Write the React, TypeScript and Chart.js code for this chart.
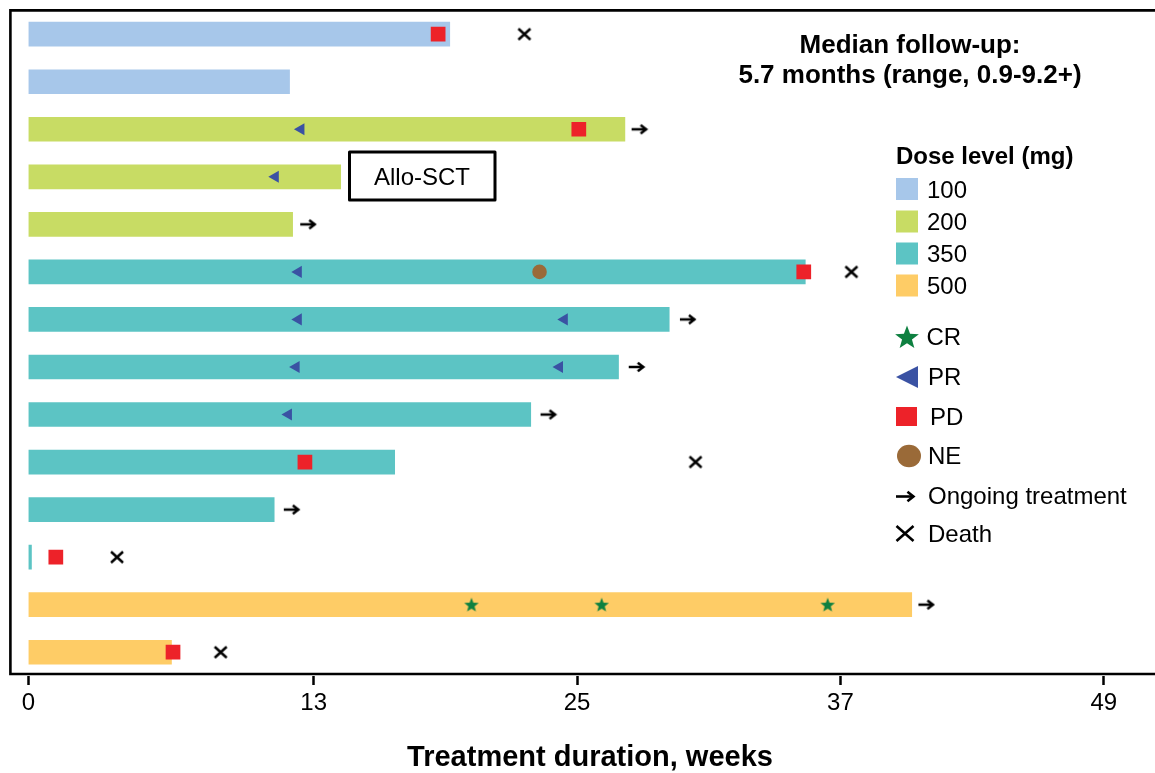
import React, { useEffect, useRef } from 'react';
import { Chart, registerables } from 'chart.js';

Chart.register(...registerables);

// ---------- data ----------
const patientIds = ['1', '2', '3', '4', '5', '6', '7', '8', '9', '10', '11', '12', '13', '14'];
const doseLevels = [100, 100, 200, 200, 200, 350, 350, 350, 350, 350, 350, 350, 500, 500];
const durationWeeks = [19.2, 11.9, 27.18, 14.23, 12.04, 35.4, 29.2, 26.89, 22.89, 16.69, 11.2, 0.14, 40.25, 6.52];
const xTickValues = [0, 13, 25, 37, 49];

const crRows = ['13', '13', '13'];
const crWeeks = [20.19, 26.12, 36.42];
const prRows = ['3', '4', '6', '7', '7', '8', '8', '9'];
const prWeeks = [12.42, 11.25, 12.3, 12.3, 24.42, 12.2, 24.2, 11.85];
const pdRows = ['1', '3', '6', '10', '12', '14'];
const pdWeeks = [18.67, 25.08, 35.33, 12.6, 1.25, 6.59];
const neRows = ['6'];
const neWeeks = [23.29];
const ongoingRows = ['3', '5', '7', '8', '9', '11', '13'];
const ongoingWeeks = [27.85, 12.75, 30.05, 27.72, 23.7, 12.0, 40.92];
const deathRows = ['1', '6', '10', '12', '14'];
const deathWeeks = [22.6, 37.5, 30.4, 4.04, 8.76];

const doseNames = ['100', '200', '350', '500'];
const doseColors = ['#A7C7EA', '#C8DC64', '#5CC4C4', '#FECC66'];
const responseLabels = ['CR', 'PR', 'PD', 'NE', 'Ongoing treatment', 'Death'];
const legendTitle = 'Dose level (mg)';
const followUpLines = ['Median follow-up:', '5.7 months (range, 0.9-9.2+)'];
const alloLabel = 'Allo-SCT';
const xAxisTitle = 'Treatment duration, weeks';

const CR_COLOR = '#0E8040';
const PR_COLOR = '#3A52A3';
const PD_COLOR = '#ED2229';
const NE_COLOR = '#9A6A38';
const FONT = '"Liberation Sans", Arial, Helvetica, sans-serif';

// ---------- marker drawing helpers ----------
function drawStar(ctx: CanvasRenderingContext2D, cx: number, cy: number, R: number, r: number, color: string) {
  ctx.beginPath();
  for (let i = 0; i < 10; i++) {
    const rad = -Math.PI / 2 + (i * Math.PI) / 5;
    const rr = i % 2 === 0 ? R : r;
    const px = cx + Math.cos(rad) * rr;
    const py = cy + Math.sin(rad) * rr;
    if (i === 0) ctx.moveTo(px, py);
    else ctx.lineTo(px, py);
  }
  ctx.closePath();
  ctx.fillStyle = color;
  ctx.fill();
}

function drawArrow(ctx: CanvasRenderingContext2D, x0: number, cy: number, w: number, h: number, lw: number) {
  ctx.strokeStyle = '#000';
  ctx.lineWidth = lw;
  ctx.lineJoin = 'miter';
  ctx.lineCap = 'butt';
  ctx.beginPath();
  ctx.moveTo(x0, cy);
  ctx.lineTo(x0 + w - lw * 0.6, cy);
  ctx.stroke();
  ctx.beginPath();
  ctx.moveTo(x0 + w - h / 2 - lw * 0.6, cy - h / 2 + lw / 2);
  ctx.lineTo(x0 + w - lw * 0.6, cy);
  ctx.lineTo(x0 + w - h / 2 - lw * 0.6, cy + h / 2 - lw / 2);
  ctx.stroke();
}

function drawCross(ctx: CanvasRenderingContext2D, cx: number, cy: number, w: number, h: number, lw: number) {
  ctx.strokeStyle = '#000';
  ctx.lineWidth = lw;
  ctx.lineCap = 'butt';
  ctx.beginPath();
  ctx.moveTo(cx - w / 2, cy - h / 2);
  ctx.lineTo(cx + w / 2, cy + h / 2);
  ctx.moveTo(cx + w / 2, cy - h / 2);
  ctx.lineTo(cx - w / 2, cy + h / 2);
  ctx.stroke();
}

function makeImage(w: number, h: number, draw: (ctx: CanvasRenderingContext2D) => void) {
  const c = document.createElement('canvas');
  c.width = w;
  c.height = h;
  const ctx = c.getContext('2d') as CanvasRenderingContext2D;
  draw(ctx);
  return c;
}

function toPoints(rows: string[], weeks: number[]) {
  return rows.map((r, i) => ({ x: weeks[i], y: r }));
}

const overlayPlugin = {
  id: 'overlay',
  afterDraw(chart: any) {
    const ctx: CanvasRenderingContext2D = chart.ctx;
    const a = chart.chartArea;
    ctx.save();

    // frame (left, top, bottom)
    const frameBottom = a.bottom - 2;
    ctx.strokeStyle = '#000';
    ctx.lineWidth = 2.6;
    ctx.lineCap = 'square';
    ctx.beginPath();
    ctx.moveTo(chart.width + 5, a.top);
    ctx.lineTo(a.left, a.top);
    ctx.lineTo(a.left, frameBottom);
    ctx.lineTo(chart.width + 5, frameBottom);
    ctx.stroke();

    // median follow-up text
    ctx.fillStyle = '#000';
    ctx.textAlign = 'center';
    ctx.textBaseline = 'alphabetic';
    ctx.font = `bold 26px ${FONT}`;
    ctx.fillText(followUpLines[0], 910, 53);
    ctx.fillText(followUpLines[1], 910, 83);

    // Allo-SCT box
    ctx.lineWidth = 3;
    ctx.lineJoin = 'round';
    ctx.beginPath();
    ctx.rect(349.5, 152, 145.5, 48);
    ctx.stroke();
    ctx.font = `24px ${FONT}`;
    ctx.fillText(alloLabel, 422, 185);

    // legend
    ctx.textAlign = 'left';
    ctx.font = `bold 24px ${FONT}`;
    ctx.fillText(legendTitle, 896, 164);
    ctx.font = `24px ${FONT}`;
    const doseY = [189, 221.5, 253.5, 285.5];
    doseNames.forEach((n, i) => {
      ctx.fillStyle = doseColors[i];
      ctx.fillRect(896, doseY[i] - 11, 22, 22);
      ctx.fillStyle = '#000';
      ctx.fillText(n, 927, doseY[i] + 8.6);
    });

    // CR star
    drawStar(ctx, 907, 338, 12.5, 5.2, CR_COLOR);
    // PR triangle
    ctx.fillStyle = PR_COLOR;
    ctx.beginPath();
    ctx.moveTo(896, 377);
    ctx.lineTo(918, 366);
    ctx.lineTo(918, 388);
    ctx.closePath();
    ctx.fill();
    // PD square
    ctx.fillStyle = PD_COLOR;
    ctx.fillRect(896, 407, 21, 19);
    // NE circle
    ctx.fillStyle = NE_COLOR;
    ctx.beginPath();
    ctx.ellipse(909, 456, 12, 11.2, 0, 0, Math.PI * 2);
    ctx.fill();
    // arrow
    drawArrow(ctx, 896, 496.5, 19, 12, 2.6);
    // death X
    drawCross(ctx, 905, 533.5, 17, 15, 2.6);

    ctx.fillStyle = '#000';
    const respX = [926.5, 928, 930, 928, 928, 928];
    const respY = [345, 385, 425, 463.5, 504, 542];
    responseLabels.forEach((t, i) => ctx.fillText(t, respX[i], respY[i]));

    ctx.restore();
  },
};

function SwimmerChart() {
  const ref = useRef<HTMLCanvasElement | null>(null);

  useEffect(() => {
    const canvas = ref.current;
    if (!canvas) return;

    const starImg = makeImage(18, 16, (ctx) => drawStar(ctx, 9, 8.7, 7.6, 3.2, CR_COLOR));
    const arrowImg = makeImage(18, 14, (ctx) => drawArrow(ctx, 1, 7, 16, 11, 2.5));
    const crossImg = makeImage(16, 15, (ctx) => drawCross(ctx, 8, 7.5, 12, 11, 2.5));

    const barColors = doseLevels.map((d) => doseColors[doseNames.indexOf(String(d))]);

    const chart = new Chart(canvas, {
      type: 'bar',
      data: {
        labels: patientIds,
        datasets: [
          {
            type: 'bar',
            label: 'Duration',
            data: durationWeeks,
            backgroundColor: barColors,
            borderWidth: 0,
            barThickness: 24,
            order: 5,
          } as any,
          {
            type: 'scatter',
            label: 'PR',
            data: toPoints(prRows, prWeeks),
            pointStyle: 'triangle',
            pointRotation: -90,
            pointRadius: 7,
            pointBackgroundColor: PR_COLOR,
            pointBorderWidth: 0,
            order: 1,
          },
          {
            type: 'scatter',
            label: 'NE',
            data: toPoints(neRows, neWeeks),
            pointStyle: 'circle',
            pointRadius: 7.3,
            pointBackgroundColor: NE_COLOR,
            pointBorderWidth: 0,
            order: 1,
          },
          {
            type: 'scatter',
            label: 'PD',
            data: toPoints(pdRows, pdWeeks),
            pointStyle: 'rect',
            pointRadius: 10.4,
            pointBackgroundColor: PD_COLOR,
            pointBorderWidth: 0,
            order: 0,
          },
          {
            type: 'scatter',
            label: 'CR',
            data: toPoints(crRows, crWeeks),
            pointStyle: starImg,
            pointRadius: 8,
            order: 0,
          },
          {
            type: 'scatter',
            label: 'Ongoing treatment',
            data: toPoints(ongoingRows, ongoingWeeks),
            pointStyle: arrowImg,
            pointRadius: 8,
            order: 0,
          },
          {
            type: 'scatter',
            label: 'Death',
            data: toPoints(deathRows, deathWeeks),
            pointStyle: crossImg,
            pointRadius: 8,
            order: 0,
          },
        ] as any,
      },
      options: {
        indexAxis: 'y',
        animation: false,
        responsive: false,
        maintainAspectRatio: false,
        events: [],
        layout: { padding: { left: 10, top: 8, right: 2, bottom: 0 } },
        plugins: {
          legend: { display: false },
          tooltip: { enabled: false },
          title: { display: false },
        },
        scales: {
          x: {
            type: 'linear',
            min: -0.82,
            max: 52,
            afterBuildTicks: (axis: any) => {
              axis.ticks = xTickValues.map((v) => ({ value: v }));
            },
            ticks: {
              color: '#000',
              padding: 4,
              maxRotation: 0,
              autoSkip: false,
              font: { family: FONT, size: 24 },
              callback: (v: any) => String(v),
            },
            grid: {
              display: true,
              drawOnChartArea: false,
              drawTicks: true,
              tickLength: 9,
              tickWidth: 2.5,
              tickColor: '#000',
            },
            border: { display: false },
            title: {
              display: true,
              text: xAxisTitle,
              color: '#000',
              font: { family: FONT, size: 29, weight: 'bold' },
              padding: { top: 18.4, bottom: -2 },
            },
          },
          y: {
            type: 'category',
            display: false,
            offset: true,
            grid: { display: false },
          },
        },
      } as any,
      plugins: [overlayPlugin],
    });

    return () => chart.destroy();
  }, []);

  return (
    <div style={{ position: 'fixed', left: 0, top: 0, width: 1155, height: 773, overflow: 'hidden', background: '#fff' }}>
      <canvas ref={ref} width={1180} height={773} style={{ width: 1180, height: 773, display: 'block' }} />
    </div>
  );
}

export default function App() {
  return <SwimmerChart />;
}
